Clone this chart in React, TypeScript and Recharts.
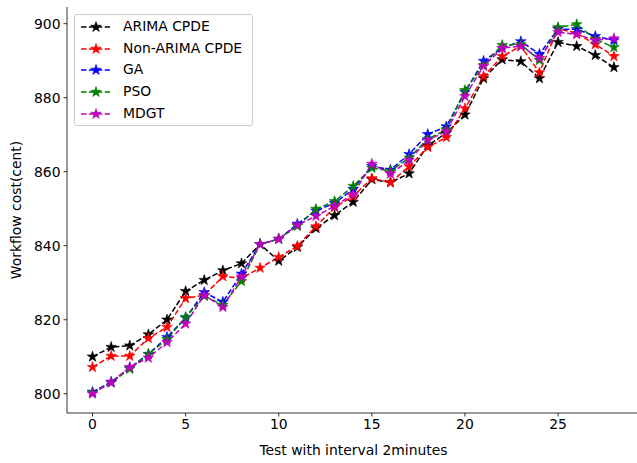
import React from "react";
import { LineChart, Line, XAxis, YAxis, Legend } from "recharts";

const steps = [0, 1, 2, 3, 4, 5, 6, 7, 8, 9, 10, 11, 12, 13, 14, 15, 16, 17, 18, 19, 20, 21, 22, 23, 24, 25, 26, 27, 28];

const arimaCpde = [810, 812.6, 813, 816, 820, 827.7, 830.7, 833.3, 835.2, 840.4, 835.9, 839.6, 844.7, 848.2, 851.8, 857.9, 857.1, 859.5, 867.1, 870.4, 875.4, 885.2, 890.3, 889.8, 885.2, 895, 893.9, 891.5, 888.2];
const nonArimaCpde = [807.2, 810.2, 810.2, 815, 818, 825.8, 826.6, 831.7, 831.2, 834, 836.9, 839.9, 845.2, 850.4, 853.4, 858.2, 857.1, 861.4, 866.6, 869.3, 877.1, 885.8, 891.2, 893.9, 886.8, 898.7, 897.4, 894.4, 891.2];
const ga = [800.5, 803.2, 807, 810.7, 815.3, 820.5, 827.4, 824.8, 832.4, 840.4, 841.8, 845.9, 849.4, 851.5, 855.3, 861.5, 860.5, 864.7, 870.1, 872.2, 881.5, 889.9, 893.4, 895.2, 891.8, 898.5, 898.5, 896.6, 895.5];
const pso = [800.3, 803, 806.7, 810.7, 814.7, 820.7, 826.4, 824, 830.4, 840.4, 841.8, 845.3, 849.9, 852, 856.1, 861, 860.2, 863.7, 868.8, 871.4, 882, 888.8, 894.2, 894.4, 890.1, 899, 899.8, 895.8, 893.6];
const mdgt = [800, 803, 807.2, 809.7, 813.9, 818.9, 826.6, 823.4, 831.7, 840.4, 841.8, 845.6, 848, 850.7, 853.9, 862.1, 859.4, 863.1, 868.5, 870.9, 880.4, 888.5, 893.4, 893.9, 890.7, 897.7, 897.1, 895.5, 896];

const xTicks = [0, 5, 10, 15, 20, 25];
const yTicks = [800, 820, 840, 860, 880, 900];

const series = [
  { key: "arima", name: "ARIMA CPDE", color: "#000000", values: arimaCpde },
  { key: "nonArima", name: "Non-ARIMA CPDE", color: "#ff0000", values: nonArimaCpde },
  { key: "ga", name: "GA", color: "#0000ff", values: ga },
  { key: "pso", name: "PSO", color: "#008000", values: pso },
  { key: "mdgt", name: "MDGT", color: "#bf00bf", values: mdgt },
];

const rows = steps.map((t, i) => {
  const row: any = { t };
  series.forEach((s) => (row[s.key] = s.values[i]));
  return row;
});

const FONT = "DejaVu Sans";
const FS = 13.9;
const DASH = "5.5 2.4";

function starPoints(cx: number, cy: number, R: number) {
  const r = R * 0.382;
  const pts: string[] = [];
  for (let k = 0; k < 10; k++) {
    const a = -Math.PI / 2 + (k * Math.PI) / 5;
    const rad = k % 2 === 0 ? R : r;
    pts.push(`${cx + rad * Math.cos(a)},${cy + rad * Math.sin(a)}`);
  }
  return pts.join(" ");
}

const StarDot = (props: any) => {
  const { cx, cy, color, index } = props;
  if (cx == null || cy == null) return <g key={index} />;
  return (
    <polygon
      key={index}
      points={starPoints(cx, cy, 5.6)}
      fill={color}
      stroke={color}
      strokeWidth={0.6}
      strokeLinejoin="miter"
    />
  );
};

const LegendBox = () => (
  <div
    style={{
      width: 179,
      height: 112,
      boxSizing: "border-box",
      border: "1px solid #cccccc",
      borderRadius: 3,
      background: "rgba(255,255,255,0.8)",
      paddingTop: 1,
      fontFamily: FONT,
      fontSize: FS,
      color: "#000",
    }}
  >
    {series.map((s) => (
      <div key={s.key} style={{ height: 21.75, display: "flex", alignItems: "center" }}>
        <svg width={48} height={14} style={{ flex: "none" }}>
          <line x1={6} y1={7} x2={35} y2={7} stroke={s.color} strokeWidth={1.5} strokeDasharray={DASH} />
          <polygon points={starPoints(21, 7, 5.6)} fill={s.color} stroke={s.color} strokeWidth={0.6} />
        </svg>
        <span style={{ whiteSpace: "nowrap", lineHeight: 1 }}>{s.name}</span>
      </div>
    ))}
  </div>
);

export default function App() {
  return (
    <div style={{ position: "fixed", left: 0, top: 0, width: 637, height: 463, overflow: "hidden", background: "#fff" }}>
      <LineChart width={640} height={463} data={rows} margin={{ top: 7, right: 0, bottom: 0, left: 0 }}>
        <XAxis
          dataKey="t"
          type="number"
          domain={[-1.37, 29.4]}
          ticks={xTicks}
          allowDataOverflow
          height={50}
          tickSize={3.5}
          tickMargin={3}
          stroke="#000"
          strokeWidth={0.8}
          tick={{ fill: "#000", fontFamily: FONT, fontSize: FS }}
          label={{
            content: () => (
              <text x={353.5} y={455} textAnchor="middle" fontFamily={FONT} fontSize={FS} fill="#000">
                Test with interval 2minutes
              </text>
            ),
          }}
        />
        <XAxis
          xAxisId="top"
          orientation="top"
          type="number"
          domain={[-1.37, 29.4]}
          height={0}
          tick={false}
          tickLine={false}
          stroke="#000"
          strokeWidth={0.8}
        />
        <YAxis
          type="number"
          domain={[794.8, 904.5]}
          ticks={yTicks}
          allowDataOverflow
          width={67}
          tickSize={3.5}
          tickMargin={3}
          stroke="#000"
          strokeWidth={0.8}
          tick={{ fill: "#000", fontFamily: FONT, fontSize: FS }}
          label={{
            content: () => (
              <text
                x={21}
                y={210}
                transform="rotate(-90 21 210)"
                textAnchor="middle"
                fontFamily={FONT}
                fontSize={FS}
                fill="#000"
              >
                Workflow cost(cent)
              </text>
            ),
          }}
        />
        <Legend
          layout="vertical"
          align="center"
          verticalAlign="middle"
          content={() => <LegendBox />}
          wrapperStyle={{ position: "absolute", left: 74, top: 14, width: 179, height: 112 }}
        />
        {series.map((s) => (
          <Line
            key={s.key}
            dataKey={s.key}
            name={s.name}
            stroke={s.color}
            strokeWidth={1.5}
            strokeDasharray={DASH}
            type="linear"
            isAnimationActive={false}
            dot={(p: any) => <StarDot {...p} key={p.index} color={s.color} />}
            activeDot={false}
          />
        ))}
      </LineChart>
    </div>
  );
}
